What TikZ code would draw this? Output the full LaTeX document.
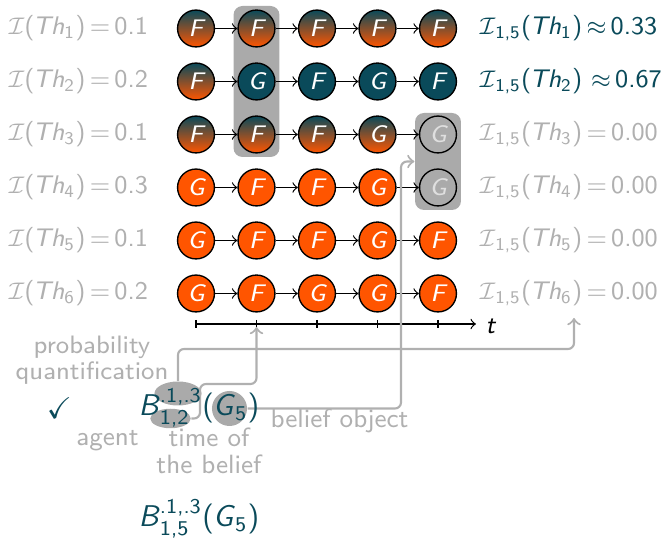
\documentclass[tikz,border=0pt]{standalone}
\usepackage{amssymb,amsmath}
\usetikzlibrary{shapes.geometric}
\definecolor{tealc}{RGB}{10,74,90}
\definecolor{orng}{RGB}{255,85,0}
\definecolor{gtxt}{RGB}{176,176,176}
\definecolor{gbox}{RGB}{170,170,170}
\newcommand\Ic{\ensuremath{\mathcal{I}}}
\newcommand\lab[2]{\Ic(\kern-0.5pt\textit{Th}\textsubscript{#1})\,=\,#2}
\newcommand\rlab[3]{\Ic\textsubscript{1,5}(\kern-0.5pt\textit{Th}\textsubscript{#1})#2#3}
\newcommand\Bel[1]{$\mbox{\textit{B}}^{\text{.1,.3}}_{\text{#1}}$(\kern-0.3pt\textit{G}\textsubscript{5})}
\begin{document}
\begin{tikzpicture}[x=0.33333pt,y=-0.33333pt,
  st/.style={circle,draw=black,line width=0.45pt,minimum size=12.3pt,inner sep=0pt,text=white,font=\fontsize{8}{9}\selectfont\sffamily\itshape},
  fg/.style={st,top color=tealc,bottom color=orng},
  ft/.style={st,fill=tealc},
  fo/.style={st,fill=orng},
  fx/.style={st,text=gray!25},
  seq/.style={->,line width=0.4pt,black},
  hl/.style={fill=gbox,rounded corners=3pt,inner sep=0pt},
  lab/.style={font=\fontsize{8.5}{10}\selectfont\sffamily,inner sep=0pt},
  ann/.style={font=\fontsize{8.8}{9.2}\selectfont\sffamily,text=gtxt,align=center,inner sep=0pt},
  conn/.style={->,draw=gtxt,line width=0.7pt,rounded corners=2pt},
  blob/.style={fill=gbox,inner sep=0pt},
  frm/.style={font=\fontsize{10}{12}\selectfont\sffamily,text=tealc,anchor=base west,inner sep=0pt},
]
\useasboundingbox (0,0) rectangle (671,539);
% highlight boxes
\node[hl,minimum width=15.33pt,minimum height=50.33pt] (hb1) at (256.5,81.5) {};
\node[hl,minimum width=15.33pt,minimum height=32.33pt] (hb2) at (438,161.5) {};
% state nodes
\foreach \t/\l [count=\c] in {fg/F,fg/F,fg/F,fg/F,fg/F}
  \node[\t] (n1\c) at ({196+60.5*(\c-1)},28.5) {\l};
\foreach \t/\l [count=\c] in {fg/F,ft/G,ft/F,ft/G,ft/F}
  \node[\t] (n2\c) at ({196+60.5*(\c-1)},81.5) {\l};
\foreach \t/\l [count=\c] in {fg/F,fg/F,fg/F,fg/G,fx/G}
  \node[\t] (n3\c) at ({196+60.5*(\c-1)},134.5) {\l};
\foreach \t/\l [count=\c] in {fo/G,fo/F,fo/F,fo/G,fx/G}
  \node[\t] (n4\c) at ({196+60.5*(\c-1)},187.5) {\l};
\foreach \t/\l [count=\c] in {fo/G,fo/F,fo/F,fo/G,fo/F}
  \node[\t] (n5\c) at ({196+60.5*(\c-1)},240.5) {\l};
\foreach \t/\l [count=\c] in {fo/G,fo/F,fo/G,fo/G,fo/F}
  \node[\t] (n6\c) at ({196+60.5*(\c-1)},293.5) {\l};
\foreach \r in {1,...,6}{
  \foreach \c in {1,...,4}{
    \pgfmathtruncatemacro\d{\c+1}
    \draw[seq] (n\r\c) -- (n\r\d);
  }
}
% left labels
\node[lab,text=gtxt,anchor=west] (L1) at (8,28.5) {\lab{1}{0.1}};
\node[lab,text=gtxt,anchor=west] (L2) at (8,81.5) {\lab{2}{0.2}};
\node[lab,text=gtxt,anchor=west] (L3) at (8,134.5) {\lab{3}{0.1}};
\node[lab,text=gtxt,anchor=west] (L4) at (8,187.5) {\lab{4}{0.3}};
\node[lab,text=gtxt,anchor=west] (L5) at (8,240.5) {\lab{5}{0.1}};
\node[lab,text=gtxt,anchor=west] (L6) at (8,293.5) {\lab{6}{0.2}};
% right labels
\node[lab,text=tealc,anchor=west] (R1) at (479,28.5) {\rlab{1}{\,\ensuremath{\approx}\,}{0.33}};
\node[lab,text=tealc,anchor=west] (R2) at (479,81.5) {\rlab{2}{ \ensuremath{\approx}\,}{0.67}};
\node[lab,text=gtxt,anchor=west] (R3) at (479,134.5) {\rlab{3}{\,=\,}{0.00}};
\node[lab,text=gtxt,anchor=west] (R4) at (479,187.5) {\rlab{4}{\,=\,}{0.00}};
\node[lab,text=gtxt,anchor=west] (R5) at (479,240.5) {\rlab{5}{\,=\,}{0.00}};
\node[lab,text=gtxt,anchor=west] (R6) at (479,293.5) {\rlab{6}{\,=\,}{0.00}};
% time axis
\coordinate (a0) at (196,324);
\coordinate (a1) at (476,324);
\draw[->,line width=0.4pt] (a0) -- (a1);
\foreach \c in {1,...,5}
  \draw[line width=0.4pt] ({196+60.5*(\c-1)},320) -- ++(0,8);
\node[lab,anchor=west] (tl) at (485,326) {\textit{t}};
\coordinate (tk2) at (256.5,327);
\coordinate (c6) at (574,318);
% belief formula
\node[blob,ellipse,minimum width=15.67pt,minimum height=8pt] (e1) at (178,393.5) {};
\node[blob,ellipse,minimum width=13.5pt,minimum height=6.5pt] (e2) at (170.5,418.5) {};
\node[blob,circle,minimum size=11.67pt] (g5) at (229.5,408.5) {};
\draw[conn] (e1.north) -- (e1.north |- 0,349) -| (c6);
\draw[conn] (e2.east) -- (200,418.5) -- (200,384) -| (tk2);
\draw[conn] (g5.east) -- (g5.east -| 401,0) |- (hb2.west);
\node[frm] (f1) at (138,416) {\Bel{1,2}};
\node[frm] (f2) at (138,527) {\Bel{1,5}};
\node[text=tealc,font=\fontsize{10}{12}\selectfont,inner sep=0pt] (ck) at (59.5,408) {$\checkmark$};
% annotations
\node[ann,font=\fontsize{8.4}{8.8}\selectfont\sffamily] (pq) at (92,360) {probability\\quantification};
\node[ann] (ag) at (107.5,441) {agent};
\node[ann] (tb) at (209,451) {time of\\the belief};
\node[ann] (bo) at (339.5,421) {belief object};
\end{tikzpicture}
\end{document}
